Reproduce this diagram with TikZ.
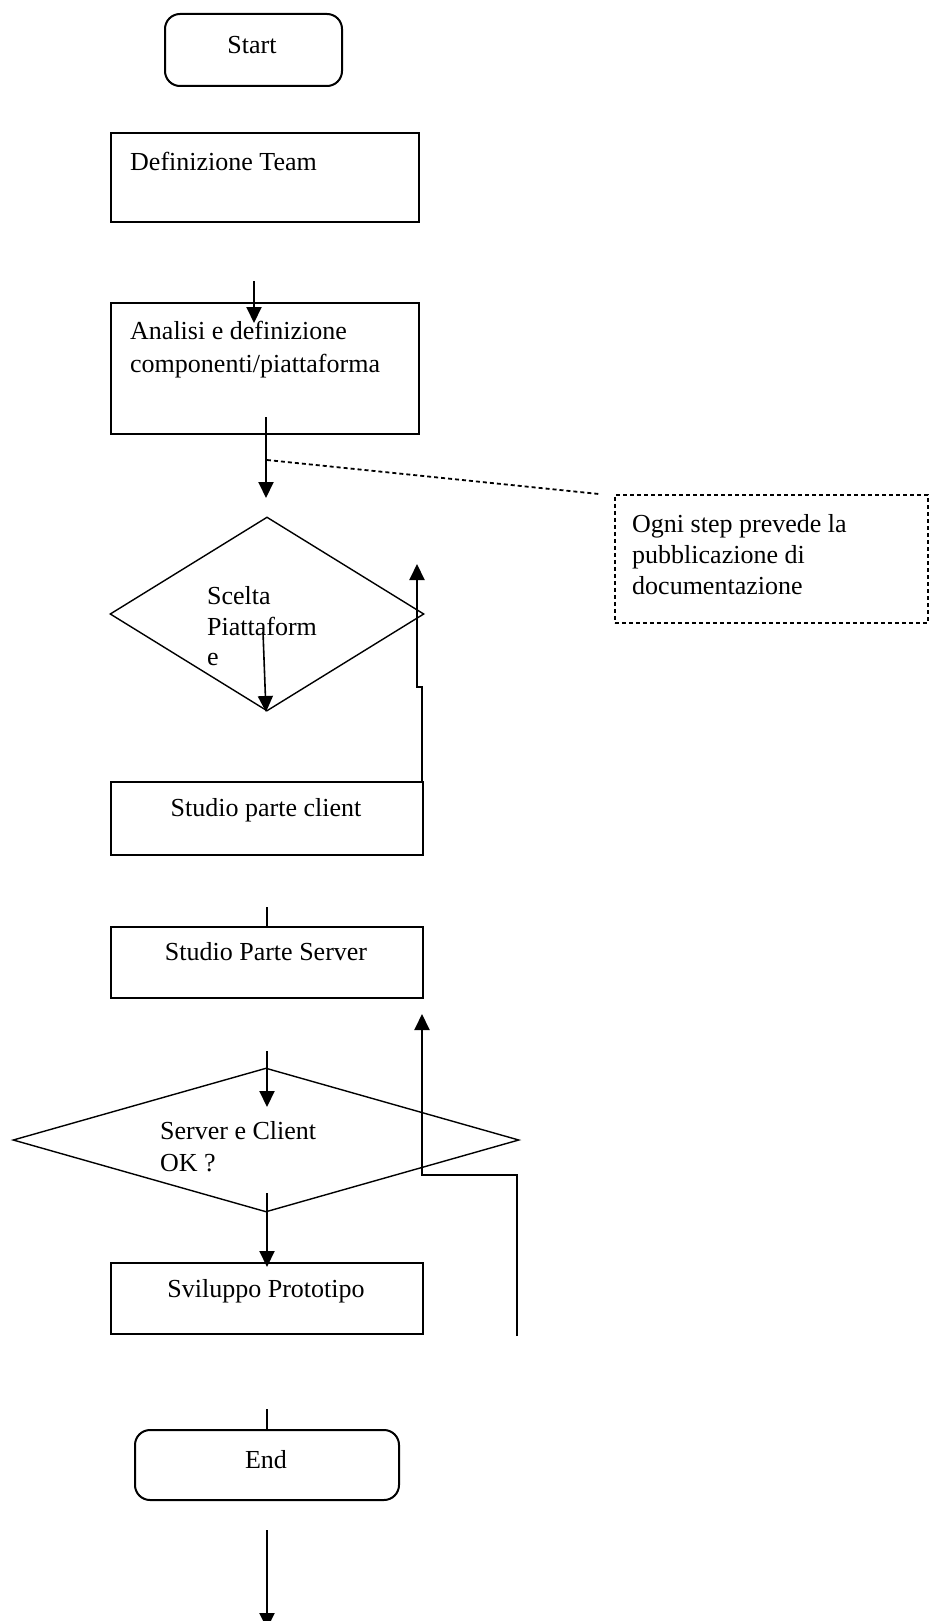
\documentclass[tikz,border=0pt]{standalone}
\usepackage{fontspec}
\setmainfont{Liberation Serif}
\usetikzlibrary{arrows.meta,shapes.geometric}
\begin{document}
\begin{tikzpicture}[x=1pt,y=-1pt,
  boxline/.style={draw=black,line width=2pt},
  procbox/.style={boxline,rectangle,inner sep=0pt,anchor=north west},
  termbox/.style={boxline,rectangle,rounded corners=15pt,inner sep=0pt,anchor=north west},
  decision/.style={draw=black,line width=1.4pt,diamond,inner sep=0pt},
  notebox/.style={draw=black,line width=1.8pt,dash pattern=on 4pt off 3pt,rectangle,inner sep=0pt,anchor=north west},
  txt/.style={inner sep=0pt,font=\fontsize{26}{31}\selectfont},
  flow/.style={draw=black,line width=2pt,-{Triangle[width=15pt,length=16pt]}},
  plain/.style={draw=black,line width=2pt},
  leader/.style={draw=black,line width=1.8pt,dash pattern=on 4pt off 3pt}]
\useasboundingbox (0,0) rectangle (931,1621);
% boxes
\node[termbox,minimum width=177pt,minimum height=72pt] (start) at (164,13) {};
\node[procbox,minimum width=308pt,minimum height=89pt] (team) at (110,132) {};
\node[procbox,minimum width=308pt,minimum height=131pt] (analisi) at (110,302) {};
\node[notebox,minimum width=313pt,minimum height=128pt] (note) at (614,494) {};
\node[decision,minimum width=314pt,minimum height=194pt] (scelta) at (267,614) {};
\node[procbox,minimum width=312pt,minimum height=73pt] (client) at (110,781) {};
\node[procbox,minimum width=312pt,minimum height=71pt] (server) at (110,926) {};
\node[decision,minimum width=506pt,minimum height=144pt] (ok) at (266,1140) {};
\node[procbox,minimum width=312pt,minimum height=71pt] (proto) at (110,1262) {};
\node[termbox,minimum width=264pt,minimum height=70pt] (end) at (134,1429) {};
% texts
\node[txt,anchor=mid] (tstart) at (252,51) {Start};
\node[txt,anchor=mid west] (tteam) at (130,168) {Definizione Team};
\node[txt,anchor=mid west] (tan1) at (130,337) {Analisi e definizione};
\node[txt,anchor=mid west] (tan2) at (130,370) {componenti/piattaforma};
\node[txt,anchor=mid west] (tn1) at (632,530) {Ogni step prevede la};
\node[txt,anchor=mid west] (tn2) at (632,561) {pubblicazione di};
\node[txt,anchor=mid west] (tn3) at (632,592) {documentazione};
\node[txt,anchor=mid west] (ts1) at (207,602) {Scelta};
\node[txt,anchor=mid west] (ts2) at (207,633) {Piattaform};
\node[txt,anchor=mid west] (ts3) at (207,663) {e};
\node[txt,anchor=mid] (tclient) at (266,814) {Studio parte client};
\node[txt,anchor=mid] (tserver) at (266,958) {Studio Parte Server};
\node[txt,anchor=mid west] (tok1) at (160,1137) {Server e Client};
\node[txt,anchor=mid west] (tok2) at (160,1169) {OK ?};
\node[txt,anchor=mid] (tproto) at (266,1295) {Sviluppo Prototipo};
\node[txt,anchor=mid] (tend) at (266,1466) {End};
% connector end points
\coordinate (a1s) at (254,281); \coordinate (a1e) at (254,323);
\coordinate (a2s) at (266,417); \coordinate (a2e) at (266,498);
\coordinate (ds) at (267,460); \coordinate (de) at (599,494);
\coordinate (a3s) at (263,632); \coordinate (a3e) at (266,712);
\coordinate (r1a) at (422,781); \coordinate (r1b) at (422,687);
\coordinate (r1c) at (417,687); \coordinate (r1d) at (417,564);
\coordinate (l1s) at (267,907); \coordinate (l1e) at (267,926);
\coordinate (a4s) at (267,1051); \coordinate (a4e) at (267,1107);
\coordinate (r2a) at (517,1336); \coordinate (r2b) at (517,1175);
\coordinate (r2c) at (422,1175); \coordinate (r2d) at (422,1014);
\coordinate (a5s) at (267,1193); \coordinate (a5e) at (267,1267);
\coordinate (l2s) at (267,1409); \coordinate (l2e) at (267,1429);
\coordinate (a6s) at (267,1530); \coordinate (a6e) at (267,1629);
% connectors
\draw[flow] (a1s) -- (a1e);
\draw[flow] (a2s) -- (a2e);
\draw[leader] (ds) -- (de);
\draw[flow,line width=1.6pt] (a3s) -- (a3e);
\draw[flow] (r1a) -- (r1b) -- (r1c) -- (r1d);
\draw[plain] (l1s) -- (l1e);
\draw[flow] (a4s) -- (a4e);
\draw[flow] (r2a) -- (r2b) -- (r2c) -- (r2d);
\draw[flow] (a5s) -- (a5e);
\draw[plain] (l2s) -- (l2e);
\draw[flow] (a6s) -- (a6e);
\end{tikzpicture}
\end{document}
